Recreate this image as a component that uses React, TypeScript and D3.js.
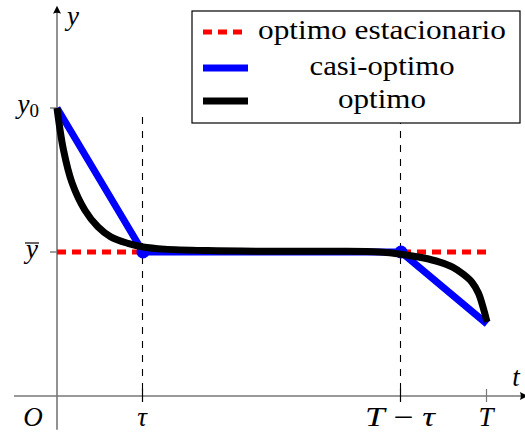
import React from "react";
import * as d3 from "d3";

// ---- data ----
const optimoT = [0, 0.15, 0.35, 0.65, 0.95, 1.25, 1.65, 2.0, 2.5, 3.5, 5, 6.5, 7.5, 8.0, 8.5, 8.9, 9.2, 9.45, 9.65, 9.8, 9.9, 10];
const optimoY = [4, 3.42, 2.96, 2.58, 2.35, 2.21, 2.12, 2.07, 2.04, 2.02, 2.01, 2.01, 2.0, 1.97, 1.92, 1.86, 1.79, 1.69, 1.58, 1.43, 1.25, 1.03];
const casiT = [0, 2, 8, 10];
const casiY = [4, 2, 2, 1];
const casiMarkT = [2, 8];
const casiMarkY = [2, 2];
const estT = [0, 10];
const estY = [2, 2];
const xTickVals = [2, 8, 10];
const xTickLabels = ["τ", "T − τ", "T"];
const yTickVals = [4, 2];
const legendLabels = ["optimo estacionario", "casi-optimo", "optimo"];

const W = 525;
const H = 436;
const FONT = "'Liberation Serif', 'Times New Roman', serif";

export default function App() {
  const x = d3.scaleLinear().domain([0, 10]).range([57, 487]);
  const y = d3.scaleLinear().domain([0, 4]).range([396, 108]);

  const line = d3
    .line<[number, number]>()
    .x((d) => x(d[0]))
    .y((d) => y(d[1]));
  const smooth = d3
    .line<[number, number]>()
    .x((d) => x(d[0]))
    .y((d) => y(d[1]))
    .curve(d3.curveCatmullRom.alpha(0.5));

  const optimo = optimoT.map((t, i) => [t, optimoY[i]] as [number, number]);
  const casi = casiT.map((t, i) => [t, casiY[i]] as [number, number]);
  const est = estT.map((t, i) => [t, estY[i]] as [number, number]);

  const axisColor = "#777";
  const x0 = x(0);
  const yAxis0 = y(0);
  const xLeft = x(-1.0);
  const xRight = x(10.95);
  const yTop = y(5.42);
  const yBottom = y(-0.47);

  const legX = 192;
  const legY = 11;
  const legW = 328;
  const legH = 112;
  const rowY = [32, 68, 101];
  const textBase = [39, 75, 108];
  const legendWidths = [248, 145, 88];

  return (
    <svg
      width={W}
      height={H}
      style={{ position: "absolute", left: 0, top: 0, background: "#fff" }}
      fontFamily={FONT}
    >
      {/* axes */}
      <line x1={xLeft} x2={xRight - 4} y1={yAxis0} y2={yAxis0} stroke={axisColor} strokeWidth={1.6} />
      <line x1={x0} x2={x0} y1={yBottom} y2={yTop + 4} stroke={axisColor} strokeWidth={1.6} />
      <path
        d={`M${x0},${yTop} L${x0 - 4},${yTop + 8} Q${x0},${yTop + 6} ${x0 + 4},${yTop + 8} Z`}
        fill="#000"
      />
      <path
        d={`M${xRight},${yAxis0} L${xRight - 8},${yAxis0 - 4} Q${xRight - 6},${yAxis0} ${xRight - 8},${yAxis0 + 4} Z`}
        fill="#000"
      />

      {/* y ticks */}
      {yTickVals.map((v) => (
        <line key={v} x1={x0 - 7} x2={x0} y1={y(v)} y2={y(v)} stroke={axisColor} strokeWidth={1.4} />
      ))}

      {/* vertical dashed guides */}
      {casiMarkT.map((t) => (
        <line
          key={"g" + t}
          x1={Math.round(x(t)) - 0.5}
          x2={Math.round(x(t)) - 0.5}
          y1={117}
          y2={yAxis0}
          stroke="#000"
          strokeWidth={1.1}
          strokeDasharray="7 7"
        />
      ))}
      {/* x ticks */}
      {xTickVals.map((t, i) => (
        <line
          key={"t" + t}
          x1={Math.round(x(t)) - 0.5}
          x2={Math.round(x(t)) - 0.5}
          y1={yAxis0 - 7}
          y2={yAxis0 + 6}
          stroke={i < 2 ? "#000" : axisColor}
          strokeWidth={1.2}
        />
      ))}

      {/* series */}
      <path d={line(est) || ""} fill="none" stroke="#ff0000" strokeWidth={5} strokeDasharray="9 6" />
      <path d={line(casi) || ""} fill="none" stroke="#0000ff" strokeWidth={7} strokeLinejoin="miter" />
      {casiMarkT.map((t, i) => (
        <circle key={"m" + t} cx={x(t)} cy={y(casiMarkY[i])} r={6.5} fill="#0000ff" />
      ))}
      <path d={smooth(optimo) || ""} fill="none" stroke="#000" strokeWidth={7} />

      {/* tick labels */}
      {xTickVals.map((t, i) => (
        <text
          key={"l" + t}
          x={x(t) - 1}
          y={426}
          textAnchor="middle"
          fontSize={27}
          fontStyle="italic"
          {...(i === 1 ? { textLength: 70, lengthAdjust: "spacingAndGlyphs" } : {})}
        >
          {xTickLabels[i] === "T − τ" ? (
            <>
              <tspan>T</tspan>
              <tspan fontStyle="normal"> − </tspan>
              <tspan>τ</tspan>
            </>
          ) : (
            xTickLabels[i]
          )}
        </text>
      ))}
      <text x={33} y={426} textAnchor="middle" fontSize={27} fontStyle="italic">O</text>
      <text x={73} y={25} textAnchor="middle" fontSize={27} fontStyle="italic">y</text>
      <text x={516} y={386} textAnchor="middle" fontSize={27} fontStyle="italic">t</text>
      <text x={39} y={113} textAnchor="end" fontSize={27} fontStyle="italic">
        y<tspan fontStyle="normal" fontSize={19} dy={4}>0</tspan>
      </text>
      <text x={38} y={258} textAnchor="end" fontSize={27} fontStyle="italic">y</text>
      <line x1={25} x2={39} y1={243} y2={243} stroke="#000" strokeWidth={1.2} />

      {/* legend */}
      <rect x={legX} y={legY} width={legW} height={legH} fill="#fff" stroke="#000" strokeWidth={1.2} />
      <line x1={203} x2={245} y1={rowY[0]} y2={rowY[0]} stroke="#ff0000" strokeWidth={5} strokeDasharray="9 6" />
      <line x1={203} x2={248} y1={rowY[1]} y2={rowY[1]} stroke="#0000ff" strokeWidth={7} />
      <line x1={203} x2={248} y1={rowY[2]} y2={rowY[2]} stroke="#000" strokeWidth={7} />
      {legendLabels.map((s, i) => (
        <text
          key={s}
          x={382}
          y={textBase[i]}
          textAnchor="middle"
          fontSize={27}
          textLength={legendWidths[i]}
          lengthAdjust="spacingAndGlyphs"
        >
          {s}
        </text>
      ))}
    </svg>
  );
}
